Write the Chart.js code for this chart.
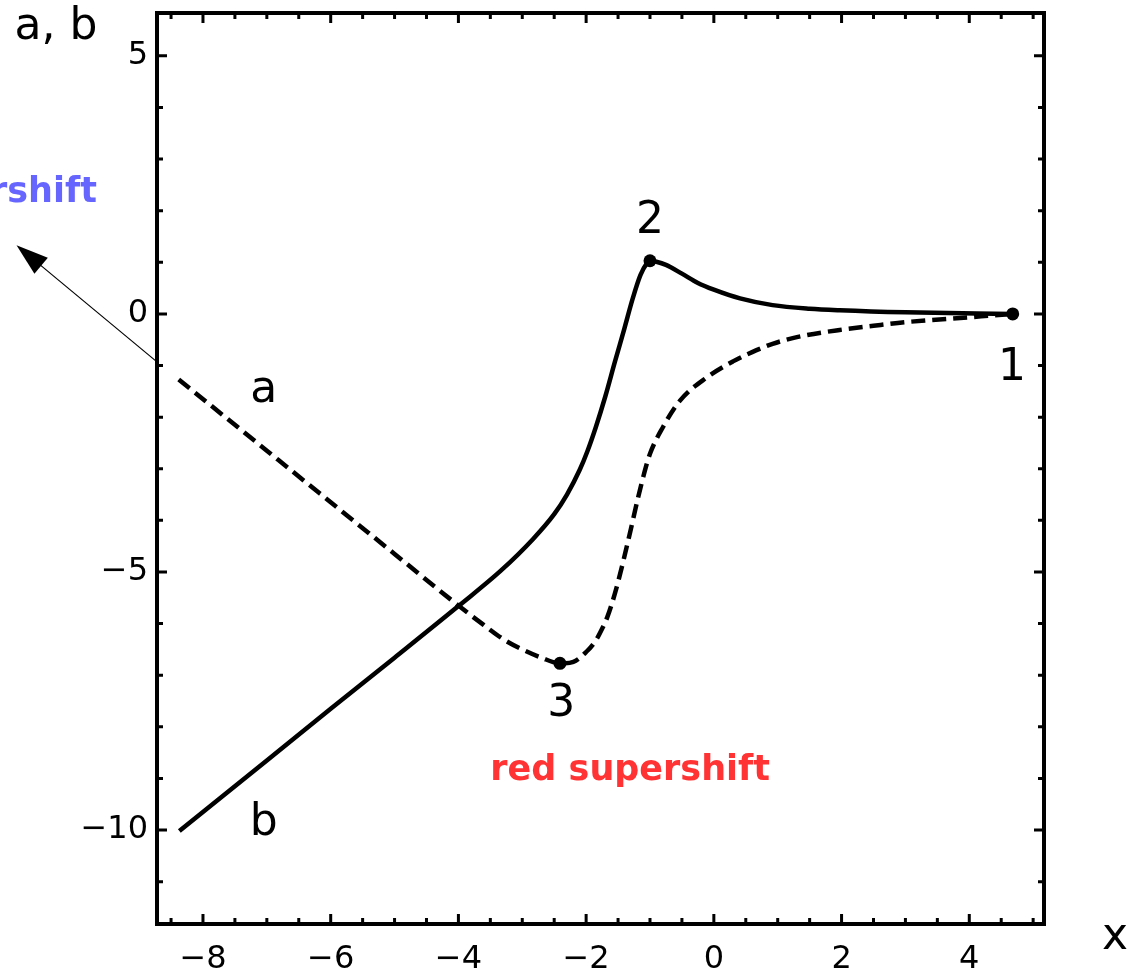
<!DOCTYPE html>
<html>
<head>
<meta charset="utf-8">
<script src="https://cdn.jsdelivr.net/npm/chart.js@4/dist/chart.umd.min.js"></script>
<style>
  html, body { margin: 0; padding: 0; background: #fff; }
  #wrap { width: 1143px; height: 973px; }
</style>
</head>
<body>
<div id="wrap"><canvas id="chart" width="1143" height="973"></canvas></div>
<script>
// curve a (dashed)
const aX = [-8.38, -7, -6, -5, -3.97, -3.6, -3.3, -3.0, -2.7, -2.41, -2.2, -2.0, -1.85, -1.75, -1.67, -1.55, -1.42, -1.3, -1.2, -1.1, -1.0, -0.8, -0.53, -0.11, 0.3, 0.6, 0.92, 1.3, 1.97, 2.5, 3.0, 4.05, 4.68];
const aY = [-1.27, -2.65, -3.65, -4.65, -5.68, -6.03, -6.3, -6.5, -6.66, -6.77, -6.74, -6.55, -6.33, -6.1, -5.88, -5.42, -4.8, -4.17, -3.63, -3.13, -2.71, -2.2, -1.68, -1.23, -0.92, -0.74, -0.58, -0.45, -0.31, -0.23, -0.16, -0.06, 0];

// curve b (solid)
const bX = [-8.37, -7, -6, -5, -4, -3.34, -2.83, -2.5, -2.3, -2.1, -1.98, -1.85, -1.7, -1.55, -1.4, -1.27, -1.15, -1.05, -1.0, -0.9, -0.75, -0.5, -0.25, 0, 0.41, 0.92, 1.5, 1.97, 3.0, 4.68];
const bY = [-10.02, -8.65, -7.65, -6.66, -5.66, -4.98, -4.36, -3.88, -3.5, -3.02, -2.66, -2.2, -1.6, -0.93, -0.28, 0.3, 0.75, 0.98, 1.03, 1.01, 0.95, 0.78, 0.6, 0.47, 0.3, 0.17, 0.1, 0.07, 0.03, 0];

// marked points 1, 2, 3
const markX = [4.68, -1.0, -2.41];
const markY = [0, 1.03, -6.77];
const markNames = ["1", "2", "3"];

const xTicks = [-8, -6, -4, -2, 0, 2, 4];
const yTicks = [-10, -5, 0, 5];
const xRange = [-8.72, 5.17];
const yRange = [-11.82, 5.83];

const toPoints = (xs, ys) => xs.map((x, i) => ({ x: x, y: ys[i] }));
const minus = v => String(v).replace("-", "\u2212");

const FONT = "'DejaVu Sans', sans-serif";

// frame with inward ticks, text notes and the arrow
const decorations = {
  id: "decorations",
  afterDraw(chart) {
    const ctx = chart.ctx;
    const area = chart.chartArea;
    const sx = chart.scales.x;
    const sy = chart.scales.y;
    ctx.save();

    // frame
    ctx.strokeStyle = "#000";
    ctx.lineWidth = 4;
    ctx.strokeRect(area.left, area.top, area.right - area.left, area.bottom - area.top);

    // ticks
    ctx.lineWidth = 3;
    ctx.beginPath();
    for (let v = -8.5; v <= 5.001; v += 0.5) {
      const px = sx.getPixelForValue(v);
      const len = Math.abs(v % 2) < 1e-6 ? 10 : 6;
      ctx.moveTo(px, area.bottom); ctx.lineTo(px, area.bottom - len);
      ctx.moveTo(px, area.top); ctx.lineTo(px, area.top + len);
    }
    for (let v = -11; v <= 5.001; v += 1) {
      const py = sy.getPixelForValue(v);
      const len = Math.abs(v % 5) < 1e-6 ? 10 : 6;
      ctx.moveTo(area.left, py); ctx.lineTo(area.left + len, py);
      ctx.moveTo(area.right, py); ctx.lineTo(area.right - len, py);
    }
    ctx.stroke();

    // arrow continuing curve a out of the frame
    const x0 = sx.getPixelForValue(-8.73), y0 = sy.getPixelForValue(-0.92);
    const x1 = sx.getPixelForValue(-10.92), y1 = sy.getPixelForValue(1.33);
    const ang = Math.atan2(y1 - y0, x1 - x0);
    const head = 32;
    ctx.lineWidth = 1.2;
    ctx.beginPath();
    ctx.moveTo(x0, y0);
    ctx.lineTo(x1 - head * 0.8 * Math.cos(ang), y1 - head * 0.8 * Math.sin(ang));
    ctx.stroke();
    ctx.fillStyle = "#000";
    ctx.beginPath();
    ctx.moveTo(x1, y1);
    ctx.lineTo(x1 - head * Math.cos(ang) + 10.5 * Math.sin(ang), y1 - head * Math.sin(ang) - 10.5 * Math.cos(ang));
    ctx.lineTo(x1 - head * Math.cos(ang) - 10.5 * Math.sin(ang), y1 - head * Math.sin(ang) + 10.5 * Math.cos(ang));
    ctx.closePath();
    ctx.fill();

    // labels
    ctx.textAlign = "center";
    ctx.textBaseline = "middle";
    ctx.fillStyle = "#000";
    ctx.font = "44px " + FONT;
    const notes = [
      { t: markNames[0], x: 4.67, y: -1.06 },
      { t: markNames[1], x: -1.0, y: 1.78 },
      { t: markNames[2], x: -2.39, y: -7.56 },
      { t: "a", x: -7.05, y: -1.49 },
      { t: "b", x: -7.05, y: -9.87 }
    ];
    notes.forEach(n => ctx.fillText(n.t, sx.getPixelForValue(n.x), sy.getPixelForValue(n.y)));

    ctx.font = "bold 35px " + FONT;
    ctx.fillStyle = "#ff3333";
    ctx.fillText("red supershift", sx.getPixelForValue(-1.31), sy.getPixelForValue(-8.86));
    ctx.textAlign = "right";
    ctx.fillStyle = "#6666ff";
    ctx.fillText("blue supershift", sx.getPixelForValue(-9.66), sy.getPixelForValue(2.34));

    // axis names
    ctx.fillStyle = "#000";
    ctx.font = "44px " + FONT;
    ctx.textAlign = "center";
    ctx.fillText("a, b", 56, 28);
    ctx.fillText("x", 1115, 938);
    ctx.restore();
  }
};

new Chart(document.getElementById("chart"), {
  type: "scatter",
  data: {
    datasets: [
      {
        data: toPoints(aX, aY),
        showLine: true,
        borderColor: "#000",
        borderWidth: 4.5,
        borderDash: [14, 7],
        pointRadius: 0,
        cubicInterpolationMode: "monotone"
      },
      {
        data: toPoints(bX, bY),
        showLine: true,
        borderColor: "#000",
        borderWidth: 4.5,
        pointRadius: 0,
        cubicInterpolationMode: "monotone"
      },
      {
        data: toPoints(markX, markY),
        showLine: false,
        pointRadius: 6.5,
        pointBackgroundColor: "#000",
        pointBorderWidth: 0
      }
    ]
  },
  options: {
    responsive: false,
    animation: false,
    devicePixelRatio: 1,
    layout: { padding: { left: 0, top: 13, right: 99, bottom: 0 } },
    plugins: { legend: { display: false }, tooltip: { enabled: false } },
    scales: {
      x: {
        type: "linear",
        min: xRange[0],
        max: xRange[1],
        afterBuildTicks: s => { s.ticks = xTicks.map(v => ({ value: v })); },
        afterFit: s => { s.height = 49; s.paddingLeft = 0; s.paddingRight = 0; },
        grid: { display: false, drawTicks: false },
        border: { display: false },
        ticks: {
          padding: 16,
          color: "#000",
          font: { family: FONT, size: 32 },
          maxRotation: 0,
          callback: v => minus(v)
        }
      },
      y: {
        type: "linear",
        min: yRange[0],
        max: yRange[1],
        afterBuildTicks: s => { s.ticks = yTicks.map(v => ({ value: v })); },
        afterFit: s => { s.width = 157; s.paddingTop = 0; s.paddingBottom = 0; },
        grid: { display: false, drawTicks: false },
        border: { display: false },
        ticks: {
          padding: 9,
          color: "#000",
          font: { family: FONT, size: 32 },
          callback: v => minus(v)
        }
      }
    }
  },
  plugins: [decorations]
});
</script>
</body>
</html>
